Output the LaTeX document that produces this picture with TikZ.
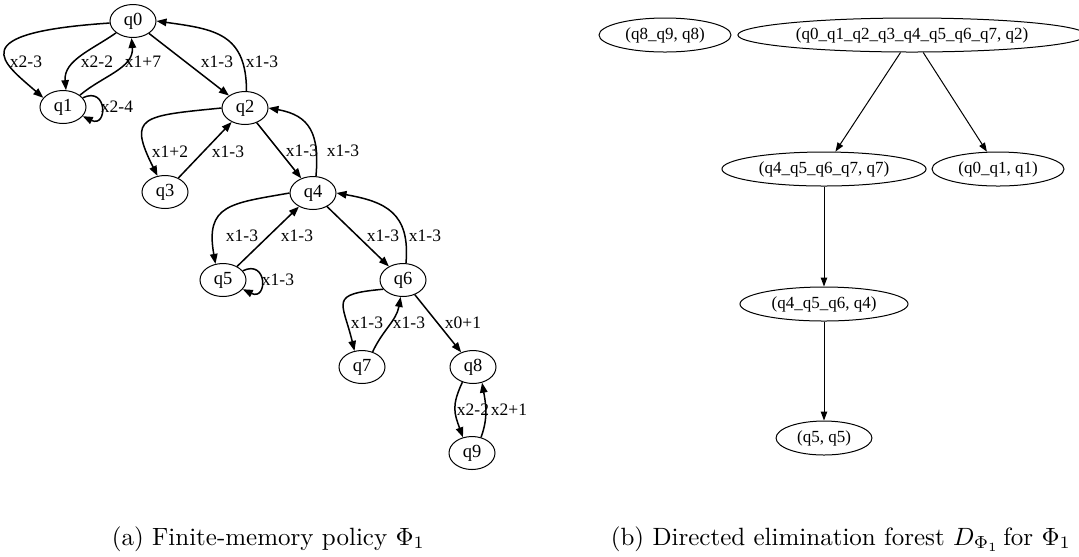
\documentclass[tikz,border=0pt]{standalone}
\usepackage{fontspec}
\usepackage{amsmath}
\usetikzlibrary{arrows.meta, shapes.geometric}
\newfontfamily\gvfont{Liberation Serif}

\begin{document}
\begin{tikzpicture}[x=0.4pt, y=0.4pt,
    st/.style={draw, ellipse, line width=0.4pt, inner sep=0pt,
      minimum width=18.4pt, minimum height=13.2pt, font=\gvfont\fontsize{7.4}{8}\selectfont},
    elim/.style={draw, ellipse, line width=0.4pt, inner xsep=2.8pt, inner ysep=0pt,
      minimum height=13.6pt, font=\gvfont\fontsize{6.8}{8}\selectfont},
    tag/.style={inner sep=0pt, font=\gvfont\fontsize{7}{8}\selectfont},
    arc/.style={line width=0.6pt, -{Triangle[length=4pt,width=3pt]}},
    farc/.style={line width=0.4pt, -{Triangle[length=3.6pt,width=2.6pt]}}]
    \useasboundingbox (0,0) rectangle (1079,-556);

    % (a) policy
    \node[st] (q0) at (133,-21) {q0};
    \node[st] (q1) at (63,-107) {q1};
    \node[st] (q2) at (245,-108) {q2};
    \node[st] (q3) at (165,-192) {q3};
    \node[st] (q4) at (313,-193) {q4};
    \node[st] (q5) at (223,-280) {q5};
    \node[st] (q6) at (403,-280) {q6};
    \node[st] (q7) at (362,-367) {q7};
    \node[st] (q8) at (473,-367) {q8};
    \node[st] (q9) at (472,-453) {q9};

    \draw[arc] (q0.185) .. controls +(-150,-10) and +(-40,35) .. (q1.155);
    \draw[arc] (q0.215) to[out=215,in=95] (q1.80);
    \draw[arc] (q1.35) to[out=40,in=-85] (q0.265);
    \draw[arc] (q1.25) .. controls +(25,12) and +(25,-12) .. (q1.-25);
    \draw[arc] (q0) -- (q2);
    \draw[arc] (q2.85) to[out=90,in=-8,looseness=1.3] (q0.east);
    \draw[arc] (q2.west) .. controls +(-80,-8) and +(-30,60) .. (q3.115);
    \draw[arc] (q3) -- (q2);
    \draw[arc] (q2) -- (q4);
    \draw[arc] (q4.80) to[out=85,in=-10,looseness=1.3] (q2.east);
    \draw[arc] (q4.west) to[out=190,in=100,looseness=1.5] (q5.115);
    \draw[arc] (q5) -- (q4);
    \draw[arc] (q5.25) .. controls +(25,12) and +(25,-12) .. (q5.-25);
    \draw[arc] (q4) -- (q6);
    \draw[arc] (q6.80) to[out=85,in=-10,looseness=1.3] (q4.east);
    \draw[arc] (q6.205) .. controls +(-55,-5) and +(-12,50) .. (q7.115);
    \draw[arc] (q7.55) to[out=65,in=-100] (q6.262);
    \draw[arc] (q6) -- (q8);
    \draw[arc] (q8.235) to[out=245,in=110,looseness=1.2] (q9.120);
    \draw[arc] (q9.60) to[out=70,in=-80] (q8.300);

    \node[tag] (t1) at (26,-62) {x2-3};
    \node[tag] (t2) at (97,-62) {x2-2};
    \node[tag] (t3) at (143,-62) {x1+7};
    \node[tag] (t4) at (117,-107) {x2-4};
    \node[tag] (t5) at (217,-62) {x1-3};
    \node[tag] (t6) at (262,-62) {x1-3};
    \node[tag] (t7) at (170,-152) {x1+2};
    \node[tag] (t8) at (228,-152) {x1-3};
    \node[tag] (t9) at (302,-151) {x1-3};
    \node[tag] (t10) at (343,-151) {x1-3};
    \node[tag] (t11) at (242,-236) {x1-3};
    \node[tag] (t12) at (297,-236) {x1-3};
    \node[tag] (t13) at (278,-280) {x1-3};
    \node[tag] (t14) at (383,-236) {x1-3};
    \node[tag] (t15) at (425,-236) {x1-3};
    \node[tag] (t16) at (367,-323) {x1-3};
    \node[tag] (t17) at (409,-323) {x1-3};
    \node[tag] (t18) at (463,-323) {x0+1};
    \node[tag] (t19) at (473,-410) {x2-2};
    \node[tag] (t20) at (509,-410) {x2+1};

    % (b) elimination forest
    \node[elim] (f89) at (665,-35) {(q8\_q9, q8)};
    \node[elim] (fall) at (912,-35) {(q0\_q1\_q2\_q3\_q4\_q5\_q6\_q7, q2)};
    \node[elim] (f47) at (824,-169) {(q4\_q5\_q6\_q7, q7)};
    \node[elim] (f01) at (998,-169) {(q0\_q1, q1)};
    \node[elim] (f46) at (824,-304) {(q4\_q5\_q6, q4)};
    \node[elim] (f55) at (824,-438) {(q5, q5)};

    \draw[farc] (fall) -- (f47);
    \draw[farc] (fall) -- (f01);
    \draw[farc] (f47) -- (f46);
    \draw[farc] (f46) -- (f55);

    \node[anchor=base west] (capa) at (103,-545) {(a) Finite-memory policy $\Phi_1$};
    \node[anchor=base west] (capb) at (602,-545) {(b) Directed elimination forest $D_{\Phi_1}$\,for $\Phi_1$};
\end{tikzpicture}
\end{document}
